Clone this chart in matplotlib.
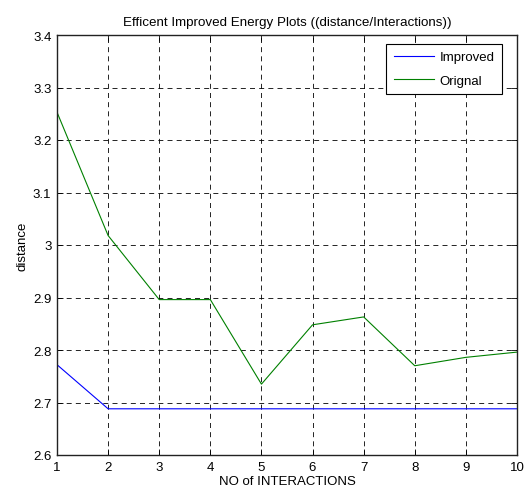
import matplotlib
matplotlib.use("Agg")
import matplotlib.pyplot as plt

plt.rcParams['font.family'] = ['Liberation Sans', 'DejaVu Sans']

iterations = [1, 2, 3, 4, 5, 6, 7, 8, 9, 10]
improved = [2.772, 2.688, 2.688, 2.688, 2.688, 2.688, 2.688, 2.688, 2.688, 2.688]
original = [3.253, 3.018, 2.896, 2.896, 2.735, 2.848, 2.863, 2.770, 2.786, 2.796]
xticks = [1, 2, 3, 4, 5, 6, 7, 8, 9, 10]
yticks = [2.6, 2.7, 2.8, 2.9, 3.0, 3.1, 3.2, 3.3, 3.4]
ytick_labels = ['2.6', '2.7', '2.8', '2.9', '3', '3.1', '3.2', '3.3', '3.4']

fig = plt.figure(figsize=(5.31, 5.02), dpi=100)
ax = fig.add_axes([57/531, 1-456/502, (517-57)/531, (456-36)/502])

ax.plot(iterations, improved, color=(0, 0, 1), lw=0.8, label='Improved')
ax.plot(iterations, original, color=(0, 0.5, 0), lw=0.8, label='Orignal')

ax.set_xlim(1, 10)
ax.set_ylim(2.6, 3.4)
ax.set_xticks(xticks)
ax.set_yticks(yticks)
ax.set_yticklabels(ytick_labels)
ax.tick_params(direction='in', top=True, right=True, labelsize=9.5, length=4, width=0.6, pad=4)
ax.grid(True, color='black', linestyle=(0, (6, 5)), linewidth=0.6)
for s in ax.spines.values():
    s.set_linewidth(1.0)
    s.set_color('#222222')

ax.set_title('Efficent Improved Energy Plots ((distance/Interactions))', fontsize=9.6, pad=7)
ax.set_xlabel('NO of INTERACTIONS', fontsize=9.5, labelpad=2)
ax.set_ylabel('distance', fontsize=9.5, labelpad=3)

leg = ax.legend(loc='upper right', bbox_to_anchor=((502-57)/460, (456-45)/420),
                fontsize=9.5, fancybox=False, framealpha=1,
                edgecolor='black', borderaxespad=0, handlelength=3.1,
                handletextpad=0.4, borderpad=0.55, labelspacing=0.85)
leg.get_frame().set_linewidth(0.8)

fig.savefig('out.png', dpi=100)
